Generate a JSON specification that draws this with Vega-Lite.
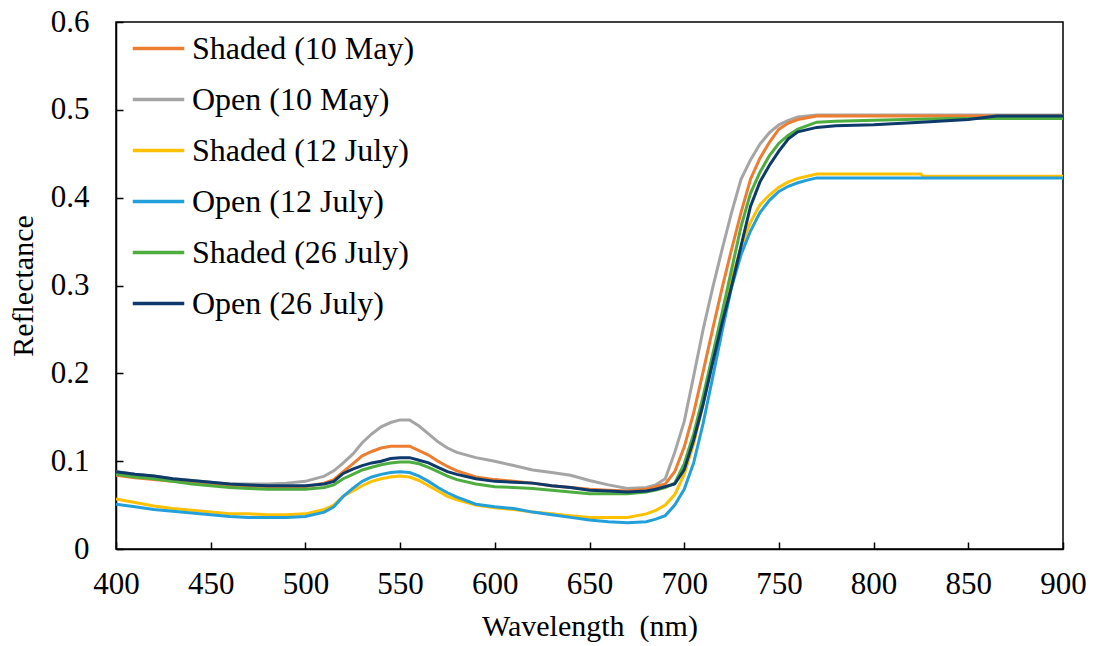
{
  "$schema": "https://vega.github.io/schema/vega-lite/v6.json",
  "width": 947,
  "height": 527,
  "autosize": "none",
  "padding": {"left": 116, "top": 22, "right": 31, "bottom": 97},
  "background": "white",
  "config": {
    "view": {"stroke": "black", "strokeWidth": 1.5},
    "font": "Liberation Serif",
    "axis": {
      "domainColor": "black", "domainWidth": 1.5, "tickColor": "black", "tickWidth": 1.5,
      "tickSize": -7, "grid": false, "labelFont": "Liberation Serif", "labelFontSize": 31,
      "labelColor": "black", "titleFont": "Liberation Serif", "titleFontSize": 30,
      "titleFontWeight": "normal", "titleColor": "black"
    },
    "legend": {"labelFont": "Liberation Serif", "labelFontSize": 32, "labelColor": "black", "labelLimit": 500}
  },
  "datasets": {
    "spec": [
      {"s":"Open (10 May)","w":400,"r":0.088},{"s":"Open (10 May)","w":410,"r":0.085},{"s":"Open (10 May)","w":420,"r":0.083},{"s":"Open (10 May)","w":430,"r":0.080},{"s":"Open (10 May)","w":440,"r":0.078},{"s":"Open (10 May)","w":450,"r":0.076},{"s":"Open (10 May)","w":460,"r":0.074},{"s":"Open (10 May)","w":470,"r":0.074},{"s":"Open (10 May)","w":480,"r":0.074},{"s":"Open (10 May)","w":490,"r":0.075},{"s":"Open (10 May)","w":500,"r":0.077},{"s":"Open (10 May)","w":510,"r":0.083},{"s":"Open (10 May)","w":515,"r":0.089},{"s":"Open (10 May)","w":520,"r":0.098},{"s":"Open (10 May)","w":525,"r":0.108},{"s":"Open (10 May)","w":530,"r":0.121},{"s":"Open (10 May)","w":535,"r":0.131},{"s":"Open (10 May)","w":540,"r":0.139},{"s":"Open (10 May)","w":545,"r":0.144},{"s":"Open (10 May)","w":550,"r":0.147},{"s":"Open (10 May)","w":555,"r":0.147},{"s":"Open (10 May)","w":560,"r":0.140},{"s":"Open (10 May)","w":565,"r":0.131},{"s":"Open (10 May)","w":570,"r":0.122},{"s":"Open (10 May)","w":575,"r":0.115},{"s":"Open (10 May)","w":580,"r":0.110},{"s":"Open (10 May)","w":590,"r":0.104},{"s":"Open (10 May)","w":600,"r":0.100},{"s":"Open (10 May)","w":610,"r":0.095},{"s":"Open (10 May)","w":620,"r":0.090},{"s":"Open (10 May)","w":630,"r":0.087},{"s":"Open (10 May)","w":640,"r":0.084},{"s":"Open (10 May)","w":650,"r":0.078},{"s":"Open (10 May)","w":660,"r":0.073},{"s":"Open (10 May)","w":670,"r":0.069},{"s":"Open (10 May)","w":680,"r":0.070},{"s":"Open (10 May)","w":685,"r":0.073},{"s":"Open (10 May)","w":690,"r":0.080},{"s":"Open (10 May)","w":695,"r":0.110},{"s":"Open (10 May)","w":700,"r":0.145},{"s":"Open (10 May)","w":705,"r":0.197},{"s":"Open (10 May)","w":710,"r":0.250},{"s":"Open (10 May)","w":715,"r":0.297},{"s":"Open (10 May)","w":720,"r":0.341},{"s":"Open (10 May)","w":725,"r":0.383},{"s":"Open (10 May)","w":730,"r":0.421},{"s":"Open (10 May)","w":735,"r":0.443},{"s":"Open (10 May)","w":740,"r":0.461},{"s":"Open (10 May)","w":745,"r":0.474},{"s":"Open (10 May)","w":750,"r":0.483},{"s":"Open (10 May)","w":755,"r":0.488},{"s":"Open (10 May)","w":760,"r":0.492},{"s":"Open (10 May)","w":770,"r":0.494},{"s":"Open (10 May)","w":800,"r":0.494},{"s":"Open (10 May)","w":850,"r":0.494},{"s":"Open (10 May)","w":900,"r":0.494},

      {"s":"Shaded (10 May)","w":400,"r":0.084},{"s":"Shaded (10 May)","w":410,"r":0.081},{"s":"Shaded (10 May)","w":420,"r":0.079},{"s":"Shaded (10 May)","w":430,"r":0.077},{"s":"Shaded (10 May)","w":440,"r":0.075},{"s":"Shaded (10 May)","w":450,"r":0.073},{"s":"Shaded (10 May)","w":460,"r":0.072},{"s":"Shaded (10 May)","w":470,"r":0.071},{"s":"Shaded (10 May)","w":480,"r":0.071},{"s":"Shaded (10 May)","w":490,"r":0.071},{"s":"Shaded (10 May)","w":500,"r":0.071},{"s":"Shaded (10 May)","w":510,"r":0.075},{"s":"Shaded (10 May)","w":515,"r":0.079},{"s":"Shaded (10 May)","w":520,"r":0.088},{"s":"Shaded (10 May)","w":525,"r":0.097},{"s":"Shaded (10 May)","w":530,"r":0.106},{"s":"Shaded (10 May)","w":535,"r":0.111},{"s":"Shaded (10 May)","w":540,"r":0.115},{"s":"Shaded (10 May)","w":545,"r":0.117},{"s":"Shaded (10 May)","w":550,"r":0.117},{"s":"Shaded (10 May)","w":555,"r":0.117},{"s":"Shaded (10 May)","w":560,"r":0.112},{"s":"Shaded (10 May)","w":565,"r":0.107},{"s":"Shaded (10 May)","w":570,"r":0.100},{"s":"Shaded (10 May)","w":575,"r":0.094},{"s":"Shaded (10 May)","w":580,"r":0.089},{"s":"Shaded (10 May)","w":590,"r":0.082},{"s":"Shaded (10 May)","w":600,"r":0.079},{"s":"Shaded (10 May)","w":610,"r":0.077},{"s":"Shaded (10 May)","w":620,"r":0.075},{"s":"Shaded (10 May)","w":630,"r":0.072},{"s":"Shaded (10 May)","w":640,"r":0.070},{"s":"Shaded (10 May)","w":650,"r":0.068},{"s":"Shaded (10 May)","w":660,"r":0.067},{"s":"Shaded (10 May)","w":670,"r":0.066},{"s":"Shaded (10 May)","w":680,"r":0.068},{"s":"Shaded (10 May)","w":685,"r":0.071},{"s":"Shaded (10 May)","w":690,"r":0.074},{"s":"Shaded (10 May)","w":695,"r":0.088},{"s":"Shaded (10 May)","w":700,"r":0.116},{"s":"Shaded (10 May)","w":705,"r":0.155},{"s":"Shaded (10 May)","w":710,"r":0.202},{"s":"Shaded (10 May)","w":715,"r":0.250},{"s":"Shaded (10 May)","w":720,"r":0.297},{"s":"Shaded (10 May)","w":725,"r":0.341},{"s":"Shaded (10 May)","w":730,"r":0.383},{"s":"Shaded (10 May)","w":735,"r":0.421},{"s":"Shaded (10 May)","w":740,"r":0.445},{"s":"Shaded (10 May)","w":745,"r":0.463},{"s":"Shaded (10 May)","w":750,"r":0.478},{"s":"Shaded (10 May)","w":755,"r":0.485},{"s":"Shaded (10 May)","w":760,"r":0.489},{"s":"Shaded (10 May)","w":770,"r":0.493},{"s":"Shaded (10 May)","w":800,"r":0.493},{"s":"Shaded (10 May)","w":850,"r":0.493},{"s":"Shaded (10 May)","w":900,"r":0.493},

      {"s":"Shaded (12 July)","w":400,"r":0.057},{"s":"Shaded (12 July)","w":410,"r":0.053},{"s":"Shaded (12 July)","w":420,"r":0.049},{"s":"Shaded (12 July)","w":430,"r":0.046},{"s":"Shaded (12 July)","w":440,"r":0.044},{"s":"Shaded (12 July)","w":450,"r":0.042},{"s":"Shaded (12 July)","w":460,"r":0.040},{"s":"Shaded (12 July)","w":470,"r":0.040},{"s":"Shaded (12 July)","w":480,"r":0.039},{"s":"Shaded (12 July)","w":490,"r":0.039},{"s":"Shaded (12 July)","w":500,"r":0.040},{"s":"Shaded (12 July)","w":510,"r":0.045},{"s":"Shaded (12 July)","w":515,"r":0.050},{"s":"Shaded (12 July)","w":520,"r":0.060},{"s":"Shaded (12 July)","w":525,"r":0.066},{"s":"Shaded (12 July)","w":530,"r":0.072},{"s":"Shaded (12 July)","w":535,"r":0.077},{"s":"Shaded (12 July)","w":540,"r":0.080},{"s":"Shaded (12 July)","w":545,"r":0.082},{"s":"Shaded (12 July)","w":550,"r":0.083},{"s":"Shaded (12 July)","w":555,"r":0.082},{"s":"Shaded (12 July)","w":560,"r":0.078},{"s":"Shaded (12 July)","w":565,"r":0.072},{"s":"Shaded (12 July)","w":570,"r":0.066},{"s":"Shaded (12 July)","w":575,"r":0.060},{"s":"Shaded (12 July)","w":580,"r":0.056},{"s":"Shaded (12 July)","w":590,"r":0.050},{"s":"Shaded (12 July)","w":600,"r":0.047},{"s":"Shaded (12 July)","w":610,"r":0.045},{"s":"Shaded (12 July)","w":620,"r":0.042},{"s":"Shaded (12 July)","w":630,"r":0.040},{"s":"Shaded (12 July)","w":640,"r":0.038},{"s":"Shaded (12 July)","w":650,"r":0.036},{"s":"Shaded (12 July)","w":660,"r":0.036},{"s":"Shaded (12 July)","w":670,"r":0.036},{"s":"Shaded (12 July)","w":680,"r":0.040},{"s":"Shaded (12 July)","w":685,"r":0.044},{"s":"Shaded (12 July)","w":690,"r":0.050},{"s":"Shaded (12 July)","w":695,"r":0.062},{"s":"Shaded (12 July)","w":700,"r":0.085},{"s":"Shaded (12 July)","w":705,"r":0.120},{"s":"Shaded (12 July)","w":710,"r":0.165},{"s":"Shaded (12 July)","w":715,"r":0.215},{"s":"Shaded (12 July)","w":720,"r":0.262},{"s":"Shaded (12 July)","w":725,"r":0.306},{"s":"Shaded (12 July)","w":730,"r":0.344},{"s":"Shaded (12 July)","w":735,"r":0.372},{"s":"Shaded (12 July)","w":740,"r":0.392},{"s":"Shaded (12 July)","w":745,"r":0.403},{"s":"Shaded (12 July)","w":750,"r":0.412},{"s":"Shaded (12 July)","w":755,"r":0.418},{"s":"Shaded (12 July)","w":760,"r":0.422},{"s":"Shaded (12 July)","w":770,"r":0.427},{"s":"Shaded (12 July)","w":825,"r":0.427},{"s":"Shaded (12 July)","w":826,"r":0.4245},{"s":"Shaded (12 July)","w":900,"r":0.4245},

      {"s":"Open (12 July)","w":400,"r":0.051},{"s":"Open (12 July)","w":410,"r":0.048},{"s":"Open (12 July)","w":420,"r":0.045},{"s":"Open (12 July)","w":430,"r":0.043},{"s":"Open (12 July)","w":440,"r":0.041},{"s":"Open (12 July)","w":450,"r":0.039},{"s":"Open (12 July)","w":460,"r":0.037},{"s":"Open (12 July)","w":470,"r":0.036},{"s":"Open (12 July)","w":480,"r":0.036},{"s":"Open (12 July)","w":490,"r":0.036},{"s":"Open (12 July)","w":500,"r":0.037},{"s":"Open (12 July)","w":510,"r":0.042},{"s":"Open (12 July)","w":515,"r":0.048},{"s":"Open (12 July)","w":520,"r":0.060},{"s":"Open (12 July)","w":525,"r":0.069},{"s":"Open (12 July)","w":530,"r":0.077},{"s":"Open (12 July)","w":535,"r":0.082},{"s":"Open (12 July)","w":540,"r":0.085},{"s":"Open (12 July)","w":545,"r":0.087},{"s":"Open (12 July)","w":550,"r":0.088},{"s":"Open (12 July)","w":555,"r":0.087},{"s":"Open (12 July)","w":560,"r":0.083},{"s":"Open (12 July)","w":565,"r":0.077},{"s":"Open (12 July)","w":570,"r":0.070},{"s":"Open (12 July)","w":575,"r":0.064},{"s":"Open (12 July)","w":580,"r":0.059},{"s":"Open (12 July)","w":590,"r":0.051},{"s":"Open (12 July)","w":600,"r":0.048},{"s":"Open (12 July)","w":610,"r":0.046},{"s":"Open (12 July)","w":620,"r":0.042},{"s":"Open (12 July)","w":630,"r":0.039},{"s":"Open (12 July)","w":640,"r":0.036},{"s":"Open (12 July)","w":650,"r":0.033},{"s":"Open (12 July)","w":660,"r":0.031},{"s":"Open (12 July)","w":670,"r":0.030},{"s":"Open (12 July)","w":680,"r":0.031},{"s":"Open (12 July)","w":685,"r":0.034},{"s":"Open (12 July)","w":690,"r":0.038},{"s":"Open (12 July)","w":695,"r":0.050},{"s":"Open (12 July)","w":700,"r":0.068},{"s":"Open (12 July)","w":705,"r":0.098},{"s":"Open (12 July)","w":710,"r":0.143},{"s":"Open (12 July)","w":715,"r":0.195},{"s":"Open (12 July)","w":720,"r":0.248},{"s":"Open (12 July)","w":725,"r":0.298},{"s":"Open (12 July)","w":730,"r":0.335},{"s":"Open (12 July)","w":735,"r":0.362},{"s":"Open (12 July)","w":740,"r":0.383},{"s":"Open (12 July)","w":745,"r":0.397},{"s":"Open (12 July)","w":750,"r":0.407},{"s":"Open (12 July)","w":755,"r":0.413},{"s":"Open (12 July)","w":760,"r":0.417},{"s":"Open (12 July)","w":765,"r":0.420},{"s":"Open (12 July)","w":770,"r":0.4225},{"s":"Open (12 July)","w":800,"r":0.4225},{"s":"Open (12 July)","w":850,"r":0.4225},{"s":"Open (12 July)","w":900,"r":0.4225},

      {"s":"Shaded (26 July)","w":400,"r":0.085},{"s":"Shaded (26 July)","w":410,"r":0.082},{"s":"Shaded (26 July)","w":420,"r":0.080},{"s":"Shaded (26 July)","w":430,"r":0.077},{"s":"Shaded (26 July)","w":440,"r":0.074},{"s":"Shaded (26 July)","w":450,"r":0.072},{"s":"Shaded (26 July)","w":460,"r":0.070},{"s":"Shaded (26 July)","w":470,"r":0.069},{"s":"Shaded (26 July)","w":480,"r":0.068},{"s":"Shaded (26 July)","w":490,"r":0.068},{"s":"Shaded (26 July)","w":500,"r":0.068},{"s":"Shaded (26 July)","w":510,"r":0.070},{"s":"Shaded (26 July)","w":515,"r":0.073},{"s":"Shaded (26 July)","w":520,"r":0.080},{"s":"Shaded (26 July)","w":525,"r":0.085},{"s":"Shaded (26 July)","w":530,"r":0.090},{"s":"Shaded (26 July)","w":535,"r":0.093},{"s":"Shaded (26 July)","w":540,"r":0.096},{"s":"Shaded (26 July)","w":545,"r":0.098},{"s":"Shaded (26 July)","w":550,"r":0.099},{"s":"Shaded (26 July)","w":555,"r":0.099},{"s":"Shaded (26 July)","w":560,"r":0.097},{"s":"Shaded (26 July)","w":565,"r":0.093},{"s":"Shaded (26 July)","w":570,"r":0.088},{"s":"Shaded (26 July)","w":575,"r":0.083},{"s":"Shaded (26 July)","w":580,"r":0.079},{"s":"Shaded (26 July)","w":590,"r":0.074},{"s":"Shaded (26 July)","w":600,"r":0.071},{"s":"Shaded (26 July)","w":610,"r":0.070},{"s":"Shaded (26 July)","w":620,"r":0.069},{"s":"Shaded (26 July)","w":630,"r":0.067},{"s":"Shaded (26 July)","w":640,"r":0.065},{"s":"Shaded (26 July)","w":650,"r":0.063},{"s":"Shaded (26 July)","w":660,"r":0.063},{"s":"Shaded (26 July)","w":670,"r":0.063},{"s":"Shaded (26 July)","w":680,"r":0.065},{"s":"Shaded (26 July)","w":685,"r":0.067},{"s":"Shaded (26 July)","w":690,"r":0.070},{"s":"Shaded (26 July)","w":695,"r":0.075},{"s":"Shaded (26 July)","w":700,"r":0.097},{"s":"Shaded (26 July)","w":705,"r":0.131},{"s":"Shaded (26 July)","w":710,"r":0.174},{"s":"Shaded (26 July)","w":715,"r":0.221},{"s":"Shaded (26 July)","w":720,"r":0.269},{"s":"Shaded (26 July)","w":725,"r":0.318},{"s":"Shaded (26 July)","w":730,"r":0.367},{"s":"Shaded (26 July)","w":735,"r":0.405},{"s":"Shaded (26 July)","w":740,"r":0.429},{"s":"Shaded (26 July)","w":745,"r":0.448},{"s":"Shaded (26 July)","w":750,"r":0.462},{"s":"Shaded (26 July)","w":755,"r":0.471},{"s":"Shaded (26 July)","w":760,"r":0.478},{"s":"Shaded (26 July)","w":770,"r":0.486},{"s":"Shaded (26 July)","w":780,"r":0.487},{"s":"Shaded (26 July)","w":800,"r":0.488},{"s":"Shaded (26 July)","w":840,"r":0.490},{"s":"Shaded (26 July)","w":900,"r":0.490},

      {"s":"Open (26 July)","w":400,"r":0.088},{"s":"Open (26 July)","w":410,"r":0.085},{"s":"Open (26 July)","w":420,"r":0.083},{"s":"Open (26 July)","w":430,"r":0.080},{"s":"Open (26 July)","w":440,"r":0.078},{"s":"Open (26 July)","w":450,"r":0.076},{"s":"Open (26 July)","w":460,"r":0.074},{"s":"Open (26 July)","w":470,"r":0.073},{"s":"Open (26 July)","w":480,"r":0.072},{"s":"Open (26 July)","w":490,"r":0.072},{"s":"Open (26 July)","w":500,"r":0.072},{"s":"Open (26 July)","w":510,"r":0.074},{"s":"Open (26 July)","w":515,"r":0.077},{"s":"Open (26 July)","w":520,"r":0.086},{"s":"Open (26 July)","w":525,"r":0.091},{"s":"Open (26 July)","w":530,"r":0.095},{"s":"Open (26 July)","w":535,"r":0.098},{"s":"Open (26 July)","w":540,"r":0.100},{"s":"Open (26 July)","w":545,"r":0.103},{"s":"Open (26 July)","w":550,"r":0.104},{"s":"Open (26 July)","w":555,"r":0.104},{"s":"Open (26 July)","w":560,"r":0.101},{"s":"Open (26 July)","w":565,"r":0.098},{"s":"Open (26 July)","w":570,"r":0.093},{"s":"Open (26 July)","w":575,"r":0.088},{"s":"Open (26 July)","w":580,"r":0.085},{"s":"Open (26 July)","w":590,"r":0.080},{"s":"Open (26 July)","w":600,"r":0.077},{"s":"Open (26 July)","w":610,"r":0.076},{"s":"Open (26 July)","w":620,"r":0.075},{"s":"Open (26 July)","w":630,"r":0.072},{"s":"Open (26 July)","w":640,"r":0.070},{"s":"Open (26 July)","w":650,"r":0.067},{"s":"Open (26 July)","w":660,"r":0.066},{"s":"Open (26 July)","w":670,"r":0.065},{"s":"Open (26 July)","w":680,"r":0.066},{"s":"Open (26 July)","w":685,"r":0.068},{"s":"Open (26 July)","w":690,"r":0.071},{"s":"Open (26 July)","w":695,"r":0.074},{"s":"Open (26 July)","w":700,"r":0.090},{"s":"Open (26 July)","w":705,"r":0.124},{"s":"Open (26 July)","w":710,"r":0.165},{"s":"Open (26 July)","w":715,"r":0.212},{"s":"Open (26 July)","w":720,"r":0.257},{"s":"Open (26 July)","w":725,"r":0.299},{"s":"Open (26 July)","w":730,"r":0.345},{"s":"Open (26 July)","w":735,"r":0.390},{"s":"Open (26 July)","w":740,"r":0.418},{"s":"Open (26 July)","w":745,"r":0.437},{"s":"Open (26 July)","w":750,"r":0.453},{"s":"Open (26 July)","w":755,"r":0.467},{"s":"Open (26 July)","w":760,"r":0.475},{"s":"Open (26 July)","w":770,"r":0.480},{"s":"Open (26 July)","w":780,"r":0.482},{"s":"Open (26 July)","w":800,"r":0.483},{"s":"Open (26 July)","w":825,"r":0.486},{"s":"Open (26 July)","w":850,"r":0.489},{"s":"Open (26 July)","w":865,"r":0.493},{"s":"Open (26 July)","w":900,"r":0.493}
    ]
  },
  "data": {"name": "spec"},
  "mark": {"type": "line", "strokeWidth": 3, "clip": true},
  "encoding": {
    "x": {
      "field": "w", "type": "quantitative", "title": "Wavelength\u00a0 (nm)",
      "scale": {"domain": [400, 900], "nice": false, "zero": false},
      "axis": {"values": [400, 450, 500, 550, 600, 650, 700, 750, 800, 850, 900], "labelPadding": 27, "titlePadding": 12, "labelFlush": false}
    },
    "y": {
      "field": "r", "type": "quantitative", "title": "Reflectance",
      "scale": {"domain": [0, 0.6], "nice": false},
      "axis": {"values": [0, 0.1, 0.2, 0.3, 0.4, 0.5, 0.6], "format": ".1~f", "labelPadding": 34, "titlePadding": 12}
    },
    "color": {
      "field": "s", "type": "nominal",
      "scale": {
        "domain": ["Shaded (10 May)", "Open (10 May)", "Shaded (12 July)", "Open (12 July)", "Shaded (26 July)", "Open (26 July)"],
        "range": ["#ED7D31", "#A5A5A5", "#FFC000", "#23A0DB", "#4EAD3F", "#0D3A6B"]
      },
      "legend": {
        "title": null, "orient": "none", "legendX": 15, "legendY": -1, "padding": 0,
        "symbolType": "stroke", "symbolSize": 2650, "symbolStrokeWidth": 3.5,
        "rowPadding": 7, "labelOffset": 6, "labelFont": "Liberation Serif", "labelFontSize": 32, "labelLimit": 500
      }
    },
    "order": {"field": "w", "type": "quantitative"}
  }
}
